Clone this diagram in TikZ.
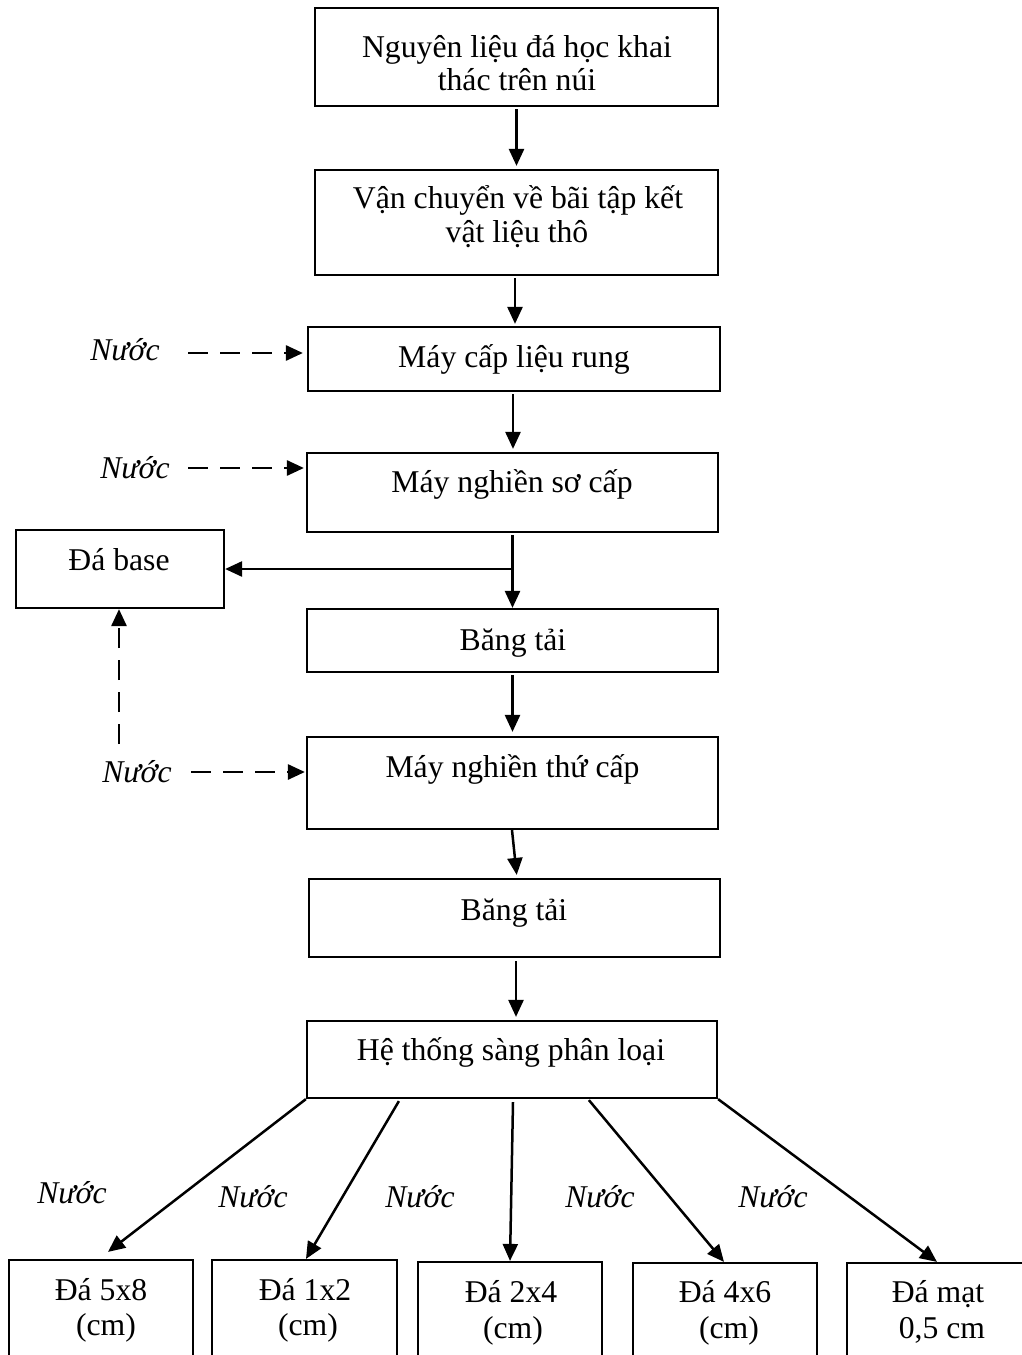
\documentclass[tikz,border=0pt]{standalone}
\usepackage{fontspec}
\setmainfont{Liberation Serif}
\usetikzlibrary{arrows.meta,calc}
\newcommand\mainsz{\fontsize{31.7}{33}\selectfont}
\tikzset{
  box/.style={draw, line width=2.2pt, inner sep=0pt},
  txt/.style={inner sep=0pt, anchor=base, font=\mainsz},
  wat/.style={inner sep=0pt, anchor=base, font=\mainsz\itshape},
  arr/.style={line width=2.5pt, -{Triangle[length=17pt,width=15pt]}},
  darr/.style={arr, line width=2.7pt, dash pattern=on 20pt off 12pt},
}
\begin{document}
\begin{tikzpicture}[x=1pt,y=-1pt]
\useasboundingbox (0,0) rectangle (1022,1355);
\clip (0,0) rectangle (1022,1355);
% boxes
\node[box, minimum width=403, minimum height=98] (b1) at (516.5,57) {};
\node[box, minimum width=403, minimum height=105] (b2) at (516.5,222.5) {};
\node[box, minimum width=412, minimum height=64] (b3) at (514,359) {};
\node[box, minimum width=411, minimum height=79] (b4) at (512.5,492.5) {};
\node[box, minimum width=208, minimum height=78] (base) at (120,569) {};
\node[box, minimum width=411, minimum height=63] (b5) at (512.5,640.5) {};
\node[box, minimum width=411, minimum height=92] (b6) at (512.5,783) {};
\node[box, minimum width=411, minimum height=78] (b7) at (514.5,918) {};
\node[box, minimum width=410, minimum height=77] (b8) at (512,1059.5) {};
\node[box, minimum width=184, minimum height=120] (ba) at (101,1320) {};
\node[box, minimum width=185, minimum height=120] (bb) at (304.5,1320) {};
\node[box, minimum width=184, minimum height=118] (bc) at (510,1321) {};
\node[box, minimum width=184, minimum height=117] (bd) at (725,1321.5) {};
\node[box, minimum width=193, minimum height=117] (be) at (943.5,1321.5) {};
% texts
\node[txt] (t1a) at (517,57) {Nguyên liệu đá học khai};
\node[txt] (t1b) at (517,90) {thác trên núi};
\node[txt] (t2a) at (518,208) {Vận chuyển về bãi tập kết};
\node[txt] (t2b) at (517,242) {vật liệu thô};
\node[txt] (t3) at (514,367) {Máy cấp liệu rung};
\node[txt] (t4) at (512,492) {Máy nghiền sơ cấp};
\node[txt] (tbase) at (119,570) {Đá base};
\node[txt] (t5) at (513,650) {Băng tải};
\node[txt] (t6) at (512.5,777) {Máy nghiền thứ cấp};
\node[txt] (t7) at (514,920) {Băng tải};
\node[txt] (t8) at (511,1060) {Hệ thống sàng phân loại};
\node[txt] (ta1) at (101,1300) {Đá 5x8};
\node[txt] (ta2) at (106,1335) {(cm)};
\node[txt] (tb1) at (305,1300) {Đá 1x2};
\node[txt] (tb2) at (308,1335) {(cm)};
\node[txt] (tc1) at (511,1302) {Đá 2x4};
\node[txt] (tc2) at (513,1338) {(cm)};
\node[txt] (td1) at (725,1302) {Đá 4x6};
\node[txt] (td2) at (729,1338) {(cm)};
\node[txt] (te1) at (938,1302) {Đá mạt};
\node[txt] (te2) at (942,1338) {0,5 cm};
% water labels
\node[wat] (w1) at (125,360) {Nước};
\node[wat] (w2) at (135,478) {Nước};
\node[wat] (w3) at (137,782) {Nước};
\node[wat] (w4) at (72,1203) {Nước};
\node[wat] (w5) at (253,1207) {Nước};
\node[wat] (w6) at (420,1207) {Nước};
\node[wat] (w7) at (600,1207) {Nước};
\node[wat] (w8) at (773,1207) {Nước};
% main flow
\draw[arr, shorten <=2pt, shorten >=3pt] (b1.south) -- (b2.north);
\draw[arr, shorten <=2pt, shorten >=2pt] ([xshift=-1.5pt]b2.south) -- ([xshift=1pt]b3.north);
\draw[arr, shorten <=2pt, shorten >=3pt] ([xshift=-1pt]b3.south) -- ([xshift=0.5pt]b4.north);
\draw[arr, shorten <=2pt] (b4.south) -- (b5.north);
\draw[arr] (b4.south |- base.east) -- (base.east);
\draw[arr, shorten <=2pt, shorten >=4pt] (b5.south) -- (b6.north);
\draw[arr, shorten >=3pt] ([xshift=-0.5pt]b6.south) -- ([xshift=2.5pt]b7.north);
\draw[arr, shorten <=3pt, shorten >=3pt] ([xshift=1.5pt]b7.south) -- ([xshift=4pt]b8.north);
% water inputs
\coordinate (s1) at (188,353);
\coordinate (s2) at (188,468);
\coordinate (s3) at (191,772);
\coordinate (s4) at (119,744);
\draw[darr, shorten >=4pt] (s1) -- (s1 -| b3.west);
\draw[darr, shorten >=2pt] (s2) -- (s2 -| b4.west);
\draw[darr, shorten >=1pt] (s3) -- (s3 -| b6.west);
\draw[darr] (s4) -- (s4 |- base.south);
% screening outputs
\draw[arr] (b8.south west) -- ($(ba.north)+(7,-7)$);
\draw[arr] ($(b8.south west)+(93,2)$) -- ($(bb.north)+(1.5,0)$);
\draw[arr] ($(b8.south)+(1,3)$) -- (bc.north);
\draw[arr] ($(b8.south west)+(283,1)$) -- ($(bd.north)+(-1,0)$);
\draw[arr] (b8.south east) -- ($(be.north)+(-6.5,0)$);
\end{tikzpicture}
\end{document}
